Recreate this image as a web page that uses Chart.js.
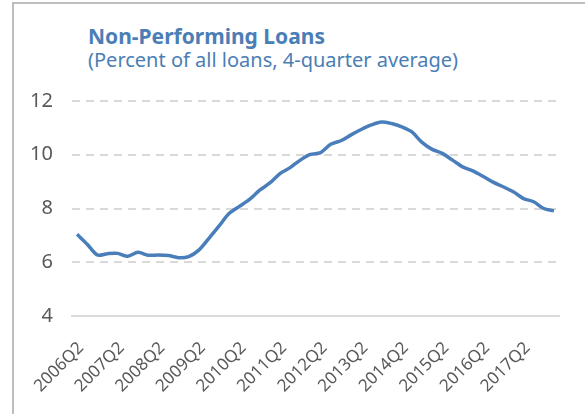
<!DOCTYPE html>
<html>
<head>
<meta charset="utf-8">
<script src="https://cdn.jsdelivr.net/npm/chart.js@4"></script>
<style>
  html, body { margin: 0; padding: 0; background: #fff; }
  body { width: 585px; height: 414px; position: relative; overflow: hidden; font-family: "Noto Sans", "Open Sans", sans-serif; }
  #frame { position: absolute; left: 12px; top: 2px; width: 700px; height: 600px; border-left: 2px solid #bdbdbd; border-top: 2px solid #bdbdbd; box-sizing: border-box; }
  #title { position: absolute; left: 88px; top: 22px; font-size: 21px; font-weight: bold; color: #4a7eb5; white-space: nowrap; }
  #subtitle { position: absolute; left: 88px; top: 46px; font-size: 20px; color: #4a7eb5; white-space: nowrap; }
  #wrap { position: absolute; left: 0; top: 0; width: 585px; height: 414px; }
</style>
</head>
<body>
<div id="frame"></div>
<div id="title">Non-Performing Loans</div>
<div id="subtitle">(Percent of all loans, 4-quarter average)</div>
<div id="wrap"><canvas id="c"></canvas></div>
<script>
// Quarterly periods, 2006Q2 through 2018Q1
const quarters = [
  '2006Q2','2006Q3','2006Q4','2007Q1','2007Q2','2007Q3','2007Q4','2008Q1',
  '2008Q2','2008Q3','2008Q4','2009Q1','2009Q2','2009Q3','2009Q4','2010Q1',
  '2010Q2','2010Q3','2010Q4','2011Q1','2011Q2','2011Q3','2011Q4','2012Q1',
  '2012Q2','2012Q3','2012Q4','2013Q1','2013Q2','2013Q3','2013Q4','2014Q1',
  '2014Q2','2014Q3','2014Q4','2015Q1','2015Q2','2015Q3','2015Q4','2016Q1',
  '2016Q2','2016Q3','2016Q4','2017Q1','2017Q2','2017Q3','2017Q4','2018Q1'
];

// Non-performing loans, percent of all loans (4-quarter average)
const nplRatio = [
  7.04, 6.67, 6.27, 6.32, 6.33, 6.22, 6.37, 6.26,
  6.27, 6.25, 6.17, 6.21, 6.45, 6.89, 7.35, 7.82,
  8.08, 8.34, 8.68, 8.95, 9.30, 9.52, 9.80, 10.01,
  10.08, 10.39, 10.52, 10.74, 10.94, 11.11, 11.22, 11.16,
  11.04, 10.85, 10.46, 10.20, 10.05, 9.80, 9.55, 9.40,
  9.20, 8.98, 8.81, 8.62, 8.37, 8.25, 8.00, 7.91
];

// Axis labels shown on the category axis
const xTickLabels = ['2006Q2','2007Q2','2008Q2','2009Q2','2010Q2','2011Q2',
                     '2012Q2','2013Q2','2014Q2','2015Q2','2016Q2','2017Q2'];
const yTicks = [4, 6, 8, 10, 12];

const FONT = '"Noto Sans", "Open Sans", sans-serif';

new Chart(document.getElementById('c'), {
  type: 'line',
  data: {
    labels: quarters,
    datasets: [{
      data: nplRatio,
      borderColor: '#4a7ebb',
      borderWidth: 3.5,
      pointRadius: 0,
      tension: 0.3,
      fill: false
    }]
  },
  options: {
    responsive: true,
    maintainAspectRatio: false,
    animation: false,
    layout: { padding: { left: 30, right: 26, top: 101, bottom: 0 } },
    plugins: { legend: { display: false }, tooltip: { enabled: false } },
    scales: {
      x: {
        offset: true,
        grid: { display: false },
        border: { display: true, color: '#d9d9d9', width: 2 },
        ticks: {
          autoSkip: false,
          maxRotation: 45,
          minRotation: 45,
          padding: 14,
          labelOffset: 4,
          color: '#595959',
          font: { family: FONT, size: 17 },
          callback: function (v, i) {
            const lab = quarters[i];
            return xTickLabels.includes(lab) ? lab : null;
          }
        },
        afterFit: s => { s.height = 98; }
      },
      y: {
        min: yTicks[0],
        max: yTicks[yTicks.length - 1],
        afterBuildTicks: s => { s.ticks = yTicks.map(v => ({ value: v })); },
        grid: {
          drawTicks: false,
          lineWidth: 2,
          color: ctx => (ctx.tick && ctx.tick.value === yTicks[0]) ? 'rgba(0,0,0,0)' : '#d9d9d9'
        },
        border: { display: false, dash: [8, 6] },
        ticks: {
          padding: 19,
          color: '#595959',
          font: { family: FONT, size: 20 }
        },
        afterFit: s => { s.width = 42; }
      }
    }
  }
});
</script>
</body>
</html>
